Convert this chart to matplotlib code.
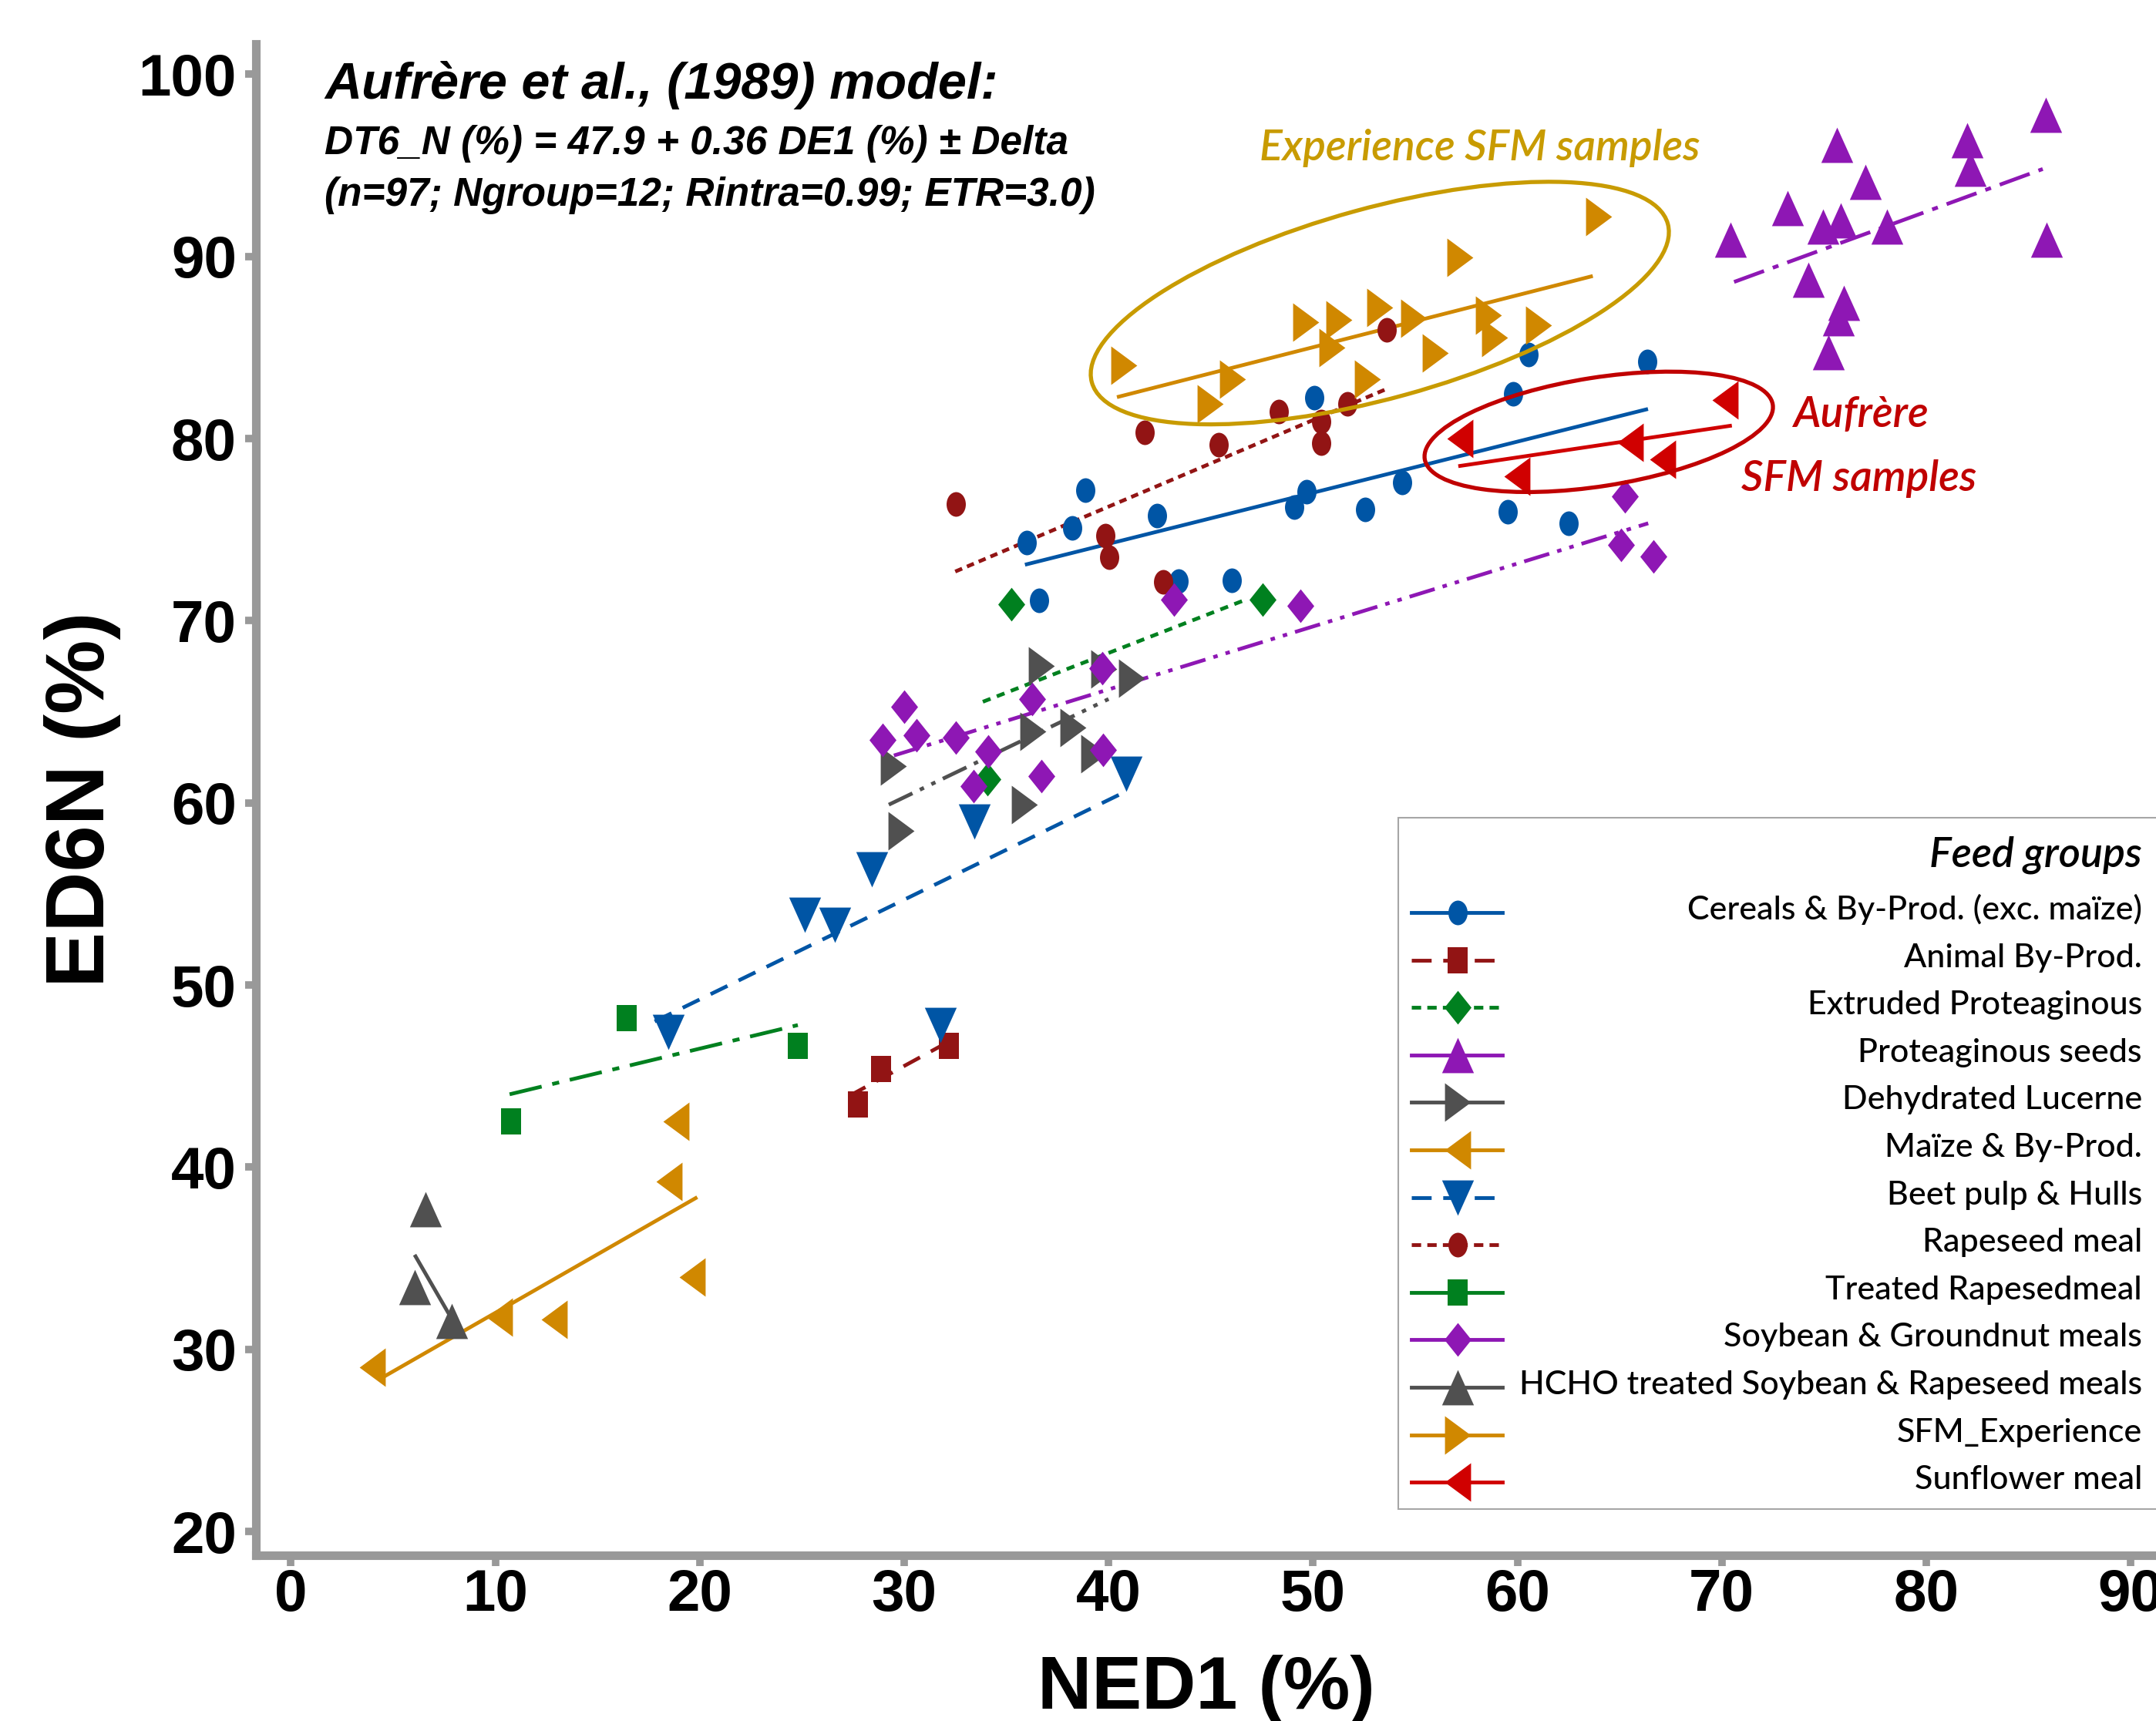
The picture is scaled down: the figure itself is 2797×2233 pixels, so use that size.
import numpy as np
import matplotlib
matplotlib.use("Agg")
import matplotlib.pyplot as plt
from matplotlib.path import Path
from matplotlib.patches import Ellipse, Rectangle
from matplotlib.lines import Line2D
from matplotlib.transforms import Affine2D, IdentityTransform

plt.rcParams['font.family'] = ['Liberation Sans', 'DejaVu Sans']

# ---- values: NED1 (%) vs ED6N (%) ----
cereals_x = [35.98, 36.60, 38.24, 38.86, 42.37, 43.42, 46.03, 49.07, 49.67, 50.08, 52.56, 54.38, 59.52, 59.79, 60.53, 62.52, 66.35]
cereals_y = [74.29, 71.12, 75.09, 77.16, 75.76, 72.18, 72.21, 76.25, 77.08, 82.23, 76.10, 77.61, 75.99, 82.44, 84.63, 75.34, 84.25]
cereals_fit_x = [36.0, 66.3]
cereals_fit_y = [73.1, 81.6]

animal_x = [27.74, 28.88, 32.18]
animal_y = [43.43, 45.39, 46.67]
animal_fit_x = [27.3, 32.2]
animal_fit_y = [43.9, 46.9]

extruded_x = [35.26, 47.52, 34.06]
extruded_y = [70.89, 71.17, 61.30]
extruded_fit_x = [33.85, 46.7]
extruded_fit_y = [65.55, 71.15]

protea_x = [70.42, 73.20, 74.94, 75.81, 78.07, 75.63, 77.02, 74.22, 75.98, 75.70, 75.22, 82.00, 82.17, 85.83, 85.90]
protea_y = [90.92, 92.64, 91.65, 91.98, 91.65, 96.13, 94.10, 88.72, 87.43, 86.61, 84.74, 96.38, 94.83, 97.76, 90.92]
protea_fit_x = [70.6, 85.7]
protea_fit_y = [88.6, 94.8]

lucerne_x = [36.72, 39.78, 41.11, 36.30, 38.25, 39.27, 29.47, 35.90, 29.87]
lucerne_y = [67.50, 67.36, 66.86, 63.91, 64.12, 62.71, 62.00, 59.89, 58.47]
lucerne_fit_x = [29.25, 40.0]
lucerne_fit_y = [59.9, 65.7]

maize_x = [18.83, 18.52, 19.65, 10.22, 12.89, 4.00]
maize_y = [42.50, 39.23, 33.97, 31.76, 31.64, 29.03]
maize_fit_x = [4.4, 19.8]
maize_fit_y = [28.4, 38.3]

beet_x = [40.86, 33.45, 28.40, 25.12, 26.60, 18.46, 31.78]
beet_y = [61.58, 58.97, 56.36, 53.84, 53.31, 47.43, 47.80]
beet_fit_x = [17.8, 40.8]
beet_fit_y = [48.0, 60.6]

rapeseed_x = [32.52, 41.77, 45.37, 48.33, 50.42, 50.42, 51.70, 53.62, 39.84, 40.02, 42.68]
rapeseed_y = [76.41, 80.34, 79.65, 81.49, 80.93, 79.76, 81.90, 85.95, 74.69, 73.49, 72.12]
rapeseed_fit_x = [32.5, 53.55]
rapeseed_fit_y = [72.7, 82.7]

treated_x = [10.76, 16.44, 24.78]
treated_y = [42.50, 48.17, 46.67]
treated_fit_x = [10.7, 24.8]
treated_fit_y = [44.0, 47.8]

soy_x = [30.02, 28.95, 30.59, 32.53, 34.10, 33.39, 36.72, 36.27, 39.68, 39.74, 43.21, 49.39, 65.27, 65.06, 66.65]
soy_y = [65.27, 63.44, 63.72, 63.57, 62.81, 60.94, 61.46, 65.70, 67.38, 62.92, 71.17, 70.82, 76.81, 74.15, 73.54]
soy_fit_x = [29.5, 66.4]
soy_fit_y = [62.6, 75.35]

hcho_x = [6.58, 6.07, 7.87]
hcho_y = [37.68, 33.41, 31.54]
hcho_fit_x = [6.1, 7.7]
hcho_fit_y = [35.1, 32.0]

sfm_x = [40.75, 44.96, 46.07, 49.65, 50.93, 51.28, 53.27, 54.94, 52.68, 55.98, 57.20, 58.59, 58.87, 61.02, 63.98]
sfm_y = [84.04, 81.90, 83.28, 86.40, 84.98, 86.53, 87.18, 86.61, 83.28, 84.69, 89.95, 86.77, 85.55, 86.21, 92.17]
sfm_fit_x = [40.5, 63.6]
sfm_fit_y = [82.3, 88.9]

sunflower_x = [70.17, 65.52, 67.09, 59.99, 57.20]
sunflower_y = [82.12, 79.77, 78.85, 77.93, 80.02]
sunflower_fit_x = [57.2, 70.4]
sunflower_fit_y = [78.5, 80.7]

x_ticks = [0, 10, 20, 30, 40, 50, 60, 70, 80, 90]
y_ticks = [20, 30, 40, 50, 60, 70, 80, 90, 100]

# highlight rings: centre (data), size in pixels, angle
exp_ring = (53.27, 87.44, 775, 247, 15.4)
aufrere_ring = (63.98, 80.37, 457, 141, 8.9)

# ---- marker shapes (source picture is stretched vertically) ----
K = 1.28
def shape(pts):
    pts = list(pts) + [pts[0]]
    return Path(pts, closed=True)

circle = Affine2D().scale(1 / K, 1).transform_path(Path.unit_circle())
square = shape([(-0.5 / K, -0.5), (0.5 / K, -0.5), (0.5 / K, 0.5), (-0.5 / K, 0.5)])
diamond = shape([(0, 1), (0.8, 0), (0, -1), (-0.8, 0)])
tri_up = shape([(0, 0.554), (-0.5, -0.554), (0.5, -0.554)])
tri_down = shape([(0, -0.554), (0.5, 0.554), (-0.5, 0.554)])
tri_right = shape([(0.433, 0), (-0.433, 0.64), (-0.433, -0.64)])
tri_left = shape([(-0.433, 0), (0.433, -0.64), (0.433, 0.64)])

blue = '#0055A5'
dred = '#921414'
green = '#00801F'
purple = '#8E17B4'
gray = '#505050'
orange = '#D08800'
red = '#D00000'

solid = '-'
long_dash = (0, (5, 3.3))
short_dash = (0, (2.0, 1.4))
dash_dot = (0, (8.5, 2.5, 1.6, 2.5))
dash_dot_dot = (0, (7, 2.2, 1.2, 2.2, 1.2, 2.2))

# label, x, y, fit x, fit y, colour, marker, size, line style in plot, line style in legend
groups = [
    ("Cereals & By-Prod. (exc. maïze)", cereals_x, cereals_y, cereals_fit_x, cereals_fit_y, blue, circle, 23, solid, solid),
    ("Animal By-Prod.", animal_x, animal_y, animal_fit_x, animal_fit_y, dred, square, 24.5, long_dash, (0, (5.3, 3.1))),
    ("Extruded Proteaginous", extruded_x, extruded_y, extruded_fit_x, extruded_fit_y, green, diamond, 31.5, (0, (2.2, 1.8)), (0, (2.5, 1.65))),
    ("Proteaginous seeds", protea_x, protea_y, protea_fit_x, protea_fit_y, purple, tri_up, 33, dash_dot, solid),
    ("Dehydrated Lucerne", lucerne_x, lucerne_y, lucerne_fit_x, lucerne_fit_y, gray, tri_right, 36, dash_dot_dot, solid),
    ("Maïze & By-Prod.", maize_x, maize_y, maize_fit_x, maize_fit_y, orange, tri_left, 36, solid, solid),
    ("Beet pulp & Hulls", beet_x, beet_y, beet_fit_x, beet_fit_y, blue, tri_down, 33, long_dash, (0, (5.3, 3.1))),
    ("Rapeseed meal", rapeseed_x, rapeseed_y, rapeseed_fit_x, rapeseed_fit_y, dred, circle, 23, short_dash, (0, (2.5, 1.65))),
    ("Treated Rapesedmeal", treated_x, treated_y, treated_fit_x, treated_fit_y, green, square, 24.5, (0, (8.8, 2.9, 1.9, 2.9)), solid),
    ("Soybean & Groundnut meals", soy_x, soy_y, soy_fit_x, soy_fit_y, purple, diamond, 31.5, dash_dot_dot, solid),
    ("HCHO treated Soybean & Rapeseed meals", hcho_x, hcho_y, hcho_fit_x, hcho_fit_y, gray, tri_up, 33, solid, solid),
    ("SFM_Experience", sfm_x, sfm_y, sfm_fit_x, sfm_fit_y, orange, tri_right, 36, solid, solid),
    ("Sunflower meal", sunflower_x, sunflower_y, sunflower_fit_x, sunflower_fit_y, red, tri_left, 36, solid, solid),
]

W, H = 2797, 2233
fig = plt.figure(figsize=(W / 100, H / 100), dpi=100)
ax = fig.add_axes([332 / W, 215 / H, (W - 332) / W, (2018 - 56.7) / H])
ax.set_xlim(-1.71, 91.24)
ax.set_ylim(18.69, 101.68)

for label, x, y, fx_, fy_, c, m, ms, pls, lls in groups:
    ax.plot(fx_, fy_, color=c, lw=3.5, ls=pls, zorder=2)
    ax.plot(x, y, ls='none', marker=m, ms=ms, color=c, mew=0, zorder=3)

# axes styling
axis_gray = '#999999'
for s in ['top', 'right']:
    ax.spines[s].set_visible(False)
for s in ['left', 'bottom']:
    ax.spines[s].set_color(axis_gray)
    ax.spines[s].set_linewidth(8)
ax.set_xticks(x_ticks)
ax.set_yticks(y_ticks)
ax.tick_params(direction='out', length=10, width=7, color=axis_gray, labelsize=55)
ax.tick_params(axis='x', pad=2)
ax.tick_params(axis='y', pad=8)
for t in ax.get_xticklabels() + ax.get_yticklabels():
    t.set_fontweight('bold')

ax.set_xlabel('NED1 (%)', fontsize=70, fontweight='bold')
ax.set_ylabel('ED6N (%)', fontsize=78, fontweight='bold')
ax.xaxis.set_label_coords(0.5, -0.066)
ax.yaxis.set_label_coords(-0.071, 0.5)

# highlight rings, sized in pixels around a data centre
for (cx, cy, w, h, ang), c in [(exp_ring, '#C89B00'), (aufrere_ring, '#C00000')]:
    px, py = ax.transData.transform((cx, cy))
    ax.add_artist(Ellipse((px, py), w, h, angle=ang, transform=IdentityTransform(),
                          fill=False, ec=c, lw=3.8, zorder=4))

def fx(px):
    return px / W

def fy(py):
    return 1 - py / H

# model text
fig.text(fx(421), fy(128), 'Aufrère et al., (1989) model:', fontsize=48,
         fontweight='bold', style='italic', va='baseline')
fig.text(fx(421), fy(200), 'DT6_N (%) = 47.9 + 0.36 DE1 (%) ± Delta', fontsize=37,
         fontweight='bold', style='italic', va='baseline')
fig.text(fx(421), fy(267), '(n=97; Ngroup=12; Rintra=0.99; ETR=3.0)', fontsize=37,
         fontweight='bold', style='italic', va='baseline')

fig.text(fx(1920), fy(208), 'Experience SFM samples', fontsize=40, family='Lato',
         style='italic', fontweight='semibold', color='#C89B00', ha='center', va='baseline')
fig.text(fx(2414), fy(554), 'Aufrère', fontsize=40, family='Lato', fontweight='semibold',
         style='italic', color='#C00000', ha='center', va='baseline')
fig.text(fx(2412), fy(637), 'SFM samples', fontsize=40, family='Lato', fontweight='semibold',
         style='italic', color='#C00000', ha='center', va='baseline')

# legend box (drawn by hand: handles left, labels right-aligned)
fig.add_artist(Rectangle((fx(1814), fy(1958)), fx(W + 20) - fx(1814), fy(1061) - fy(1958),
                         transform=fig.transFigure, fc='white', ec='#A6A6A6', lw=1.5, zorder=5))
fig.text(fx(2779), fy(1124), 'Feed groups', fontsize=39, family='Lato', style='italic',
         fontweight='semibold', ha='right', va='baseline', zorder=6)
for i, (label, x, y, fx_, fy_, c, m, ms, pls, lls) in enumerate(groups):
    ry = 1184 + 61.6 * i
    fig.add_artist(Line2D([fx(1831), fx(1949)], [fy(ry), fy(ry)], transform=fig.transFigure,
                          color=c, lw=3.5, ls=lls, zorder=6))
    fig.add_artist(Line2D([fx(1891)], [fy(ry)], transform=fig.transFigure, ls='none',
                          marker=m, ms=ms, color=c, mew=0, zorder=7))
    fig.text(fx(2779), fy(ry + 9), label, fontsize=31, family='Lato', fontweight='medium',
             ha='right', va='baseline', zorder=6)

fig.savefig('out.png', dpi=100)
